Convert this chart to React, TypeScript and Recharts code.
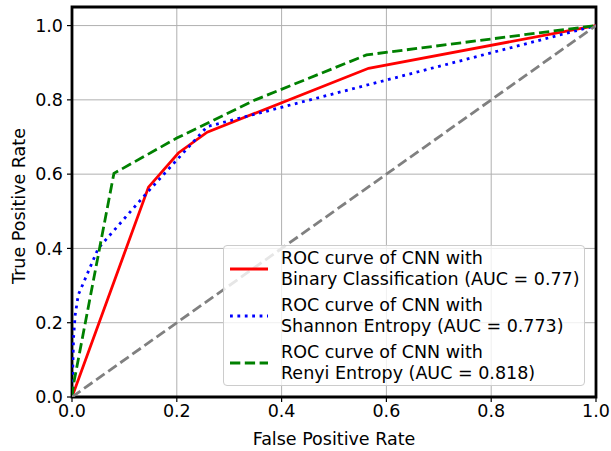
import { LineChart, Line, XAxis, YAxis, CartesianGrid, ReferenceArea } from 'recharts';

const X_TICKS = [0, 0.2, 0.4, 0.6, 0.8, 1.0];
const Y_TICKS = [0, 0.2, 0.4, 0.6, 0.8, 1.0];

const FPR_BINARY = [0, 0.146, 0.203, 0.258, 0.566, 1];
const TPR_BINARY = [0, 0.565, 0.657, 0.713, 0.885, 1];

const FPR_SHANNON = [0, 0.003, 0.006, 0.012, 0.05, 0.14, 0.258, 1];
const TPR_SHANNON = [0, 0.16, 0.22, 0.275, 0.4, 0.545, 0.728, 1];

const FPR_RENYI = [0, 0.003, 0.08, 0.2, 0.35, 0.562, 1];
const TPR_RENYI = [0, 0.035, 0.602, 0.697, 0.8, 0.921, 1];

const FPR_CHANCE = [0, 1];
const TPR_CHANCE = [0, 1];

const SERIES = [
  { name: 'ROC curve of CNN with\nBinary Classification (AUC = 0.77)', fpr: FPR_BINARY, tpr: TPR_BINARY, color: '#ff0000', dash: undefined },
  { name: 'ROC curve of CNN with\nShannon Entropy (AUC = 0.773)', fpr: FPR_SHANNON, tpr: TPR_SHANNON, color: '#0000ff', dash: '2.8 4.6' },
  { name: 'ROC curve of CNN with\nRenyi Entropy (AUC = 0.818)', fpr: FPR_RENYI, tpr: TPR_RENYI, color: '#008000', dash: '10.3 4.5' },
];

const toPoints = (xs: number[], ys: number[]) => xs.map((x, i) => ({ x, y: ys[i] }));

const FONT = '"DejaVu Sans", sans-serif';

function LegendBox() {
  return (
    <div
      style={{
        position: 'absolute',
        left: 223,
        top: 245,
        width: 362,
        height: 141,
        background: 'rgba(255,255,255,0.8)',
        border: '1px solid #cccccc',
        borderRadius: 4,
        fontFamily: FONT,
        fontSize: 17.5,
        lineHeight: '21px',
        color: '#000',
        boxSizing: 'border-box',
        padding: '2px 0 0 0',
      }}
    >
      {SERIES.map((s) => (
        <div key={s.name} style={{ display: 'flex', alignItems: 'center', marginBottom: 5 }}>
          <svg width={57} height={42} style={{ flex: 'none' }}>
            <line x1={6} x2={44} y1={21} y2={21} stroke={s.color} strokeWidth={2.8} strokeDasharray={s.dash} />
          </svg>
          <div style={{ whiteSpace: 'pre' }}>{s.name}</div>
        </div>
      ))}
    </div>
  );
}

export default function App() {
  const tickStyle = { fill: '#000', fontSize: 17.5, fontFamily: FONT };
  return (
    <div style={{ position: 'absolute', left: 0, top: 0, width: 611, height: 451, background: '#fff' }}>
      <LineChart width={611} height={451} margin={{ top: 7, right: 15, bottom: 0, left: 0 }}>
        <CartesianGrid stroke="#b0b0b0" strokeWidth={1} strokeDasharray="" />
        <XAxis
          dataKey="x"
          type="number"
          domain={[0, 1]}
          ticks={X_TICKS}
          tickFormatter={(v: number) => v.toFixed(1)}
          height={54}
          tick={tickStyle}
          tickSize={5}
          tickMargin={3}
          tickLine={{ stroke: '#000', strokeWidth: 1.2 }}
          axisLine={false}
          allowDataOverflow
          label={{
            content: () => (
              <text x={334} y={445} textAnchor="middle" fontSize={17.5} fontFamily={FONT} fill="#000">
                False Positive Rate
              </text>
            ),
          }}
        />
        <YAxis
          dataKey="y"
          type="number"
          domain={[0, 1.05]}
          ticks={Y_TICKS}
          tickFormatter={(v: number) => v.toFixed(1)}
          width={72}
          tick={tickStyle}
          tickSize={5}
          tickMargin={4}
          tickLine={{ stroke: '#000', strokeWidth: 1.2 }}
          axisLine={false}
          allowDataOverflow
          label={{
            content: () => (
              <text x={19} y={206} transform="rotate(-90 19 206)" textAnchor="middle" dominantBaseline="central" fontSize={17.5} fontFamily={FONT} fill="#000">
                True Positive Rate
              </text>
            ),
          }}
        />
        {SERIES.map((s) => (
          <Line
            key={s.name}
            data={toPoints(s.fpr, s.tpr)}
            dataKey="y"
            type="linear"
            stroke={s.color}
            strokeWidth={2.8}
            strokeDasharray={s.dash}
            dot={false}
            activeDot={false}
            isAnimationActive={false}
          />
        ))}
        <Line
          data={toPoints(FPR_CHANCE, TPR_CHANCE)}
          dataKey="y"
          type="linear"
          stroke="#808080"
          strokeWidth={2.8}
          strokeDasharray="10.3 4.5"
          dot={false}
          activeDot={false}
          isAnimationActive={false}
        />
        <ReferenceArea x1={0} x2={1} y1={0} y2={1.05} fill="none" stroke="#000" strokeWidth={2.8} ifOverflow="visible" />
      </LineChart>
      <LegendBox />
    </div>
  );
}
